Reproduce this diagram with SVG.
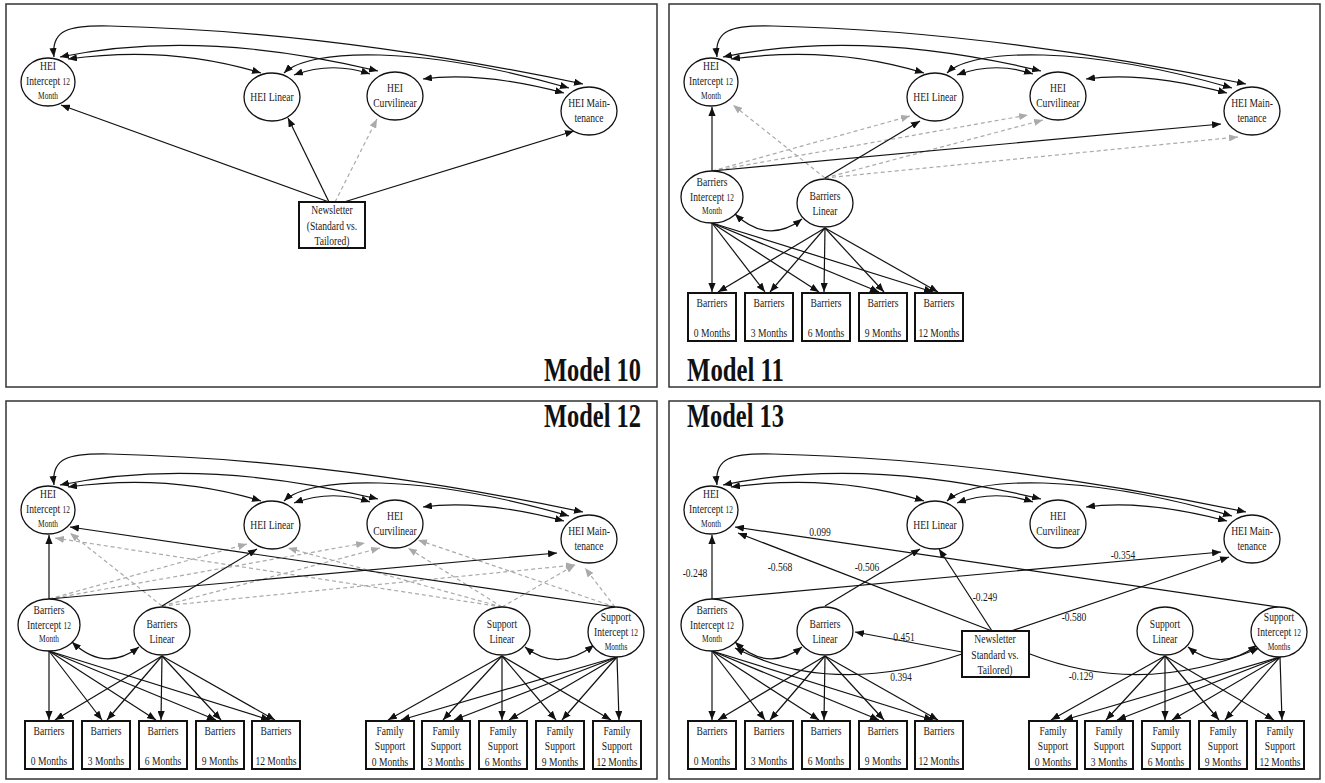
<svg xmlns="http://www.w3.org/2000/svg" width="1325" height="783" viewBox="0 0 1325 783">
<defs>
<marker id="ah" viewBox="0 0 10 8" refX="10" refY="4" markerWidth="9" markerHeight="7.2" markerUnits="userSpaceOnUse" orient="auto-start-reverse"><path d="M0,0 L10,4 L0,8 z" fill="#111"/></marker>
<marker id="ag" viewBox="0 0 10 8" refX="10" refY="4" markerWidth="9" markerHeight="7.2" markerUnits="userSpaceOnUse" orient="auto-start-reverse"><path d="M0,0 L10,4 L0,8 z" fill="#aaa"/></marker>
<style>
.pn{fill:none;stroke:#333;stroke-width:1.5}
.nd ellipse{fill:#fff;stroke:#111;stroke-width:1.3}
.bx rect{fill:#fff;stroke:#111;stroke-width:2}
text{font-family:"Liberation Serif","Times New Roman",serif;font-size:13.5px;fill:#1a1a1a;text-anchor:middle}
.sm{font-size:10.5px}
.c{fill:none;stroke:#111;stroke-width:1.2;marker-end:url(#ah)}
.d{fill:none;stroke:#aaa;stroke-width:1.2;stroke-dasharray:4 3;marker-end:url(#ag)}
.cv{marker-start:url(#ah)}
.ml{font-size:33px;font-weight:bold;text-anchor:start;fill:#111}
</style>
</defs>
<rect width="1325" height="783" fill="#fff"/>
<rect class="pn" x="6" y="4" width="651" height="383"/>
<rect class="pn" x="669" y="4" width="651" height="383"/>
<rect class="pn" x="6" y="401" width="651" height="378"/>
<rect class="pn" x="669" y="401" width="651" height="378"/>
<text class="ml" x="544" y="381" textLength="97" lengthAdjust="spacingAndGlyphs">Model 10</text>
<text class="ml" x="687" y="381" textLength="97" lengthAdjust="spacingAndGlyphs">Model 11</text>
<text class="ml" x="544" y="427" textLength="97" lengthAdjust="spacingAndGlyphs">Model 12</text>
<text class="ml" x="687" y="427" textLength="97" lengthAdjust="spacingAndGlyphs">Model 13</text>

<!-- ================= MODEL 10 ================= -->
<g id="model10">
<g id="m10-edges">
<path class="c cv" d="M54,57 C51,30 68,25 110,26 Q330,31 583,84"/>
<path class="c cv" d="M60,57 Q200,28 378,71"/>
<path class="c cv" d="M68,59 Q170,45 261,73"/>
<path class="c cv" d="M284,73 C310,48 420,45 569,88"/>
<path class="c cv" d="M294,75 Q332,61 370,74"/>
<path class="c cv" d="M423,79 Q480,71 564,93"/>
<line class="c" x1="329" y1="202" x2="61" y2="105"/>
<line class="c" x1="329" y1="202" x2="288" y2="118"/>
<line class="d" x1="335" y1="202" x2="377" y2="119"/>
<line class="c" x1="344" y1="202" x2="574" y2="131"/>
</g>
<g id="m10-hei-int" class="nd"><ellipse cx="48" cy="82" rx="27" ry="24"/><g transform="translate(48,82) scale(.71,1)"><text y="-12">HEI</text><text y="3">Intercept <tspan class="sm">12</tspan></text><text y="17" class="sm">Month</text></g></g>
<g id="m10-hei-lin" class="nd"><ellipse cx="272" cy="97" rx="28" ry="24"/><g transform="translate(272,97) scale(.71,1)"><text y="4">HEI Linear</text></g></g>
<g id="m10-hei-cur" class="nd"><ellipse cx="395" cy="96" rx="28" ry="24"/><g transform="translate(395,96) scale(.71,1)"><text y="-4">HEI</text><text y="11">Curvilinear</text></g></g>
<g id="m10-hei-mnt" class="nd"><ellipse cx="589" cy="111" rx="28" ry="24"/><g transform="translate(589,111) scale(.71,1)"><text y="-4">HEI Main-</text><text y="11">tenance</text></g></g>
<g id="m10-news" class="bx"><rect x="299" y="202" width="66" height="46"/><g transform="translate(332,202) scale(.71,1)"><text y="12">Newsletter</text><text y="28">(Standard vs.</text><text y="43">Tailored)</text></g></g>
</g>

<!-- ================= MODEL 11 ================= -->
<g id="model11" transform="translate(663,0)">
<g id="m11-edges">
<path class="c cv" d="M54,57 C51,30 68,25 110,26 Q330,31 583,84"/>
<path class="c cv" d="M60,57 Q200,28 378,71"/>
<path class="c cv" d="M68,59 Q170,45 261,73"/>
<path class="c cv" d="M284,73 C310,48 420,45 569,88"/>
<path class="c cv" d="M294,75 Q332,61 370,74"/>
<path class="c cv" d="M423,79 Q480,71 564,93"/>
<line class="d" x1="49" y1="171" x2="247" y2="116"/>
<line class="d" x1="49" y1="171" x2="365" y2="115"/>
<line class="d" x1="162" y1="178" x2="70" y2="105"/>
<line class="d" x1="162" y1="178" x2="380" y2="120"/>
<line class="d" x1="162" y1="178" x2="575" y2="137"/>
<line class="c" x1="49" y1="171" x2="49" y2="107"/>
<line class="c" x1="49" y1="171" x2="558" y2="124"/>
<line class="c" x1="162" y1="178" x2="257" y2="121"/>
<path class="c cv" d="M72,214 Q105,245 139,219"/>
<line class="c" x1="49" y1="223" x2="49" y2="292"/>
<line class="c" x1="49" y1="223" x2="102" y2="292"/>
<line class="c" x1="49" y1="223" x2="156" y2="292"/>
<line class="c" x1="49" y1="223" x2="216" y2="292"/>
<line class="c" x1="49" y1="223" x2="270" y2="292"/>
<line class="c" x1="162" y1="228" x2="55" y2="292"/>
<line class="c" x1="162" y1="228" x2="107" y2="292"/>
<line class="c" x1="162" y1="228" x2="161" y2="292"/>
<line class="c" x1="162" y1="228" x2="221" y2="292"/>
<line class="c" x1="162" y1="228" x2="275" y2="292"/>
</g>
<g id="m11-hei-int" class="nd"><ellipse cx="48" cy="82" rx="27" ry="24"/><g transform="translate(48,82) scale(.71,1)"><text y="-12">HEI</text><text y="3">Intercept <tspan class="sm">12</tspan></text><text y="17" class="sm">Month</text></g></g>
<g id="m11-hei-lin" class="nd"><ellipse cx="272" cy="97" rx="28" ry="24"/><g transform="translate(272,97) scale(.71,1)"><text y="4">HEI Linear</text></g></g>
<g id="m11-hei-cur" class="nd"><ellipse cx="395" cy="96" rx="28" ry="24"/><g transform="translate(395,96) scale(.71,1)"><text y="-4">HEI</text><text y="11">Curvilinear</text></g></g>
<g id="m11-hei-mnt" class="nd"><ellipse cx="589" cy="111" rx="28" ry="24"/><g transform="translate(589,111) scale(.71,1)"><text y="-4">HEI Main-</text><text y="11">tenance</text></g></g>
<g id="m11-bar-int" class="nd"><ellipse cx="49" cy="197" rx="31" ry="26"/><g transform="translate(49,197) scale(.71,1)"><text y="-11">Barriers</text><text y="4">Intercept <tspan class="sm">12</tspan></text><text y="17" class="sm">Month</text></g></g>
<g id="m11-bar-lin" class="nd"><ellipse cx="162" cy="203" rx="28" ry="24"/><g transform="translate(162,203) scale(.71,1)"><text y="-3">Barriers</text><text y="12">Linear</text></g></g>
<g id="m11-b0" class="bx"><rect x="25" y="293" width="48" height="48"/><g transform="translate(49,293) scale(.71,1)"><text y="14">Barriers</text><text y="44">0 Months</text></g></g>
<g id="m11-b3" class="bx"><rect x="82" y="293" width="48" height="48"/><g transform="translate(106,293) scale(.71,1)"><text y="14">Barriers</text><text y="44">3 Months</text></g></g>
<g id="m11-b6" class="bx"><rect x="139" y="293" width="48" height="48"/><g transform="translate(163,293) scale(.71,1)"><text y="14">Barriers</text><text y="44">6 Months</text></g></g>
<g id="m11-b9" class="bx"><rect x="196" y="293" width="48" height="48"/><g transform="translate(220,293) scale(.71,1)"><text y="14">Barriers</text><text y="44">9 Months</text></g></g>
<g id="m11-b12" class="bx"><rect x="252" y="293" width="48" height="48"/><g transform="translate(276,293) scale(.71,1)"><text y="14">Barriers</text><text y="44">12 Months</text></g></g>
</g>

<!-- ================= MODEL 12 ================= -->
<g id="model12" transform="translate(0,428)">
<g id="m12-edges">
<path class="c cv" d="M54,57 C51,30 68,25 110,26 Q330,31 583,84"/>
<path class="c cv" d="M60,57 Q200,28 378,71"/>
<path class="c cv" d="M68,59 Q170,45 261,73"/>
<path class="c cv" d="M284,73 C310,48 420,45 569,88"/>
<path class="c cv" d="M294,75 Q332,61 370,74"/>
<path class="c cv" d="M423,79 Q480,71 564,93"/>
<line class="d" x1="49" y1="171" x2="247" y2="116"/>
<line class="d" x1="49" y1="171" x2="365" y2="115"/>
<line class="d" x1="162" y1="178" x2="70" y2="105"/>
<line class="d" x1="162" y1="178" x2="380" y2="120"/>
<line class="d" x1="162" y1="178" x2="575" y2="137"/>
<line class="d" x1="502" y1="179" x2="55" y2="110"/>
<line class="d" x1="502" y1="179" x2="288" y2="120"/>
<line class="d" x1="502" y1="179" x2="408" y2="120"/>
<line class="d" x1="502" y1="179" x2="575" y2="137"/>
<line class="d" x1="615" y1="179" x2="418" y2="112"/>
<line class="d" x1="615" y1="179" x2="585" y2="140"/>
<line class="c" x1="49" y1="171" x2="49" y2="107"/>
<line class="c" x1="49" y1="171" x2="557" y2="125"/>
<line class="c" x1="162" y1="178" x2="257" y2="121"/>
<line class="c" x1="615" y1="179" x2="70" y2="99"/>
<path class="c cv" d="M72,214 Q105,245 139,219"/>
<path class="c cv" d="M525,219 Q558,245 594,217"/>
<line class="c" x1="49" y1="223" x2="49" y2="292"/>
<line class="c" x1="49" y1="223" x2="102" y2="292"/>
<line class="c" x1="49" y1="223" x2="156" y2="292"/>
<line class="c" x1="49" y1="223" x2="216" y2="292"/>
<line class="c" x1="49" y1="223" x2="270" y2="292"/>
<line class="c" x1="162" y1="228" x2="55" y2="292"/>
<line class="c" x1="162" y1="228" x2="107" y2="292"/>
<line class="c" x1="162" y1="228" x2="161" y2="292"/>
<line class="c" x1="162" y1="228" x2="221" y2="292"/>
<line class="c" x1="162" y1="228" x2="275" y2="292"/>
<line class="c" x1="502" y1="228" x2="388" y2="292"/>
<line class="c" x1="502" y1="228" x2="443" y2="292"/>
<line class="c" x1="502" y1="228" x2="502" y2="292"/>
<line class="c" x1="502" y1="228" x2="556" y2="292"/>
<line class="c" x1="502" y1="228" x2="611" y2="292"/>
<line class="c" x1="617" y1="229" x2="401" y2="292"/>
<line class="c" x1="617" y1="229" x2="454" y2="292"/>
<line class="c" x1="617" y1="229" x2="509" y2="292"/>
<line class="c" x1="617" y1="229" x2="562" y2="292"/>
<line class="c" x1="617" y1="229" x2="619" y2="292"/>
</g>
<g id="m12-hei-int" class="nd"><ellipse cx="48" cy="82" rx="27" ry="24"/><g transform="translate(48,82) scale(.71,1)"><text y="-12">HEI</text><text y="3">Intercept <tspan class="sm">12</tspan></text><text y="17" class="sm">Month</text></g></g>
<g id="m12-hei-lin" class="nd"><ellipse cx="272" cy="97" rx="28" ry="24"/><g transform="translate(272,97) scale(.71,1)"><text y="4">HEI Linear</text></g></g>
<g id="m12-hei-cur" class="nd"><ellipse cx="395" cy="96" rx="28" ry="24"/><g transform="translate(395,96) scale(.71,1)"><text y="-4">HEI</text><text y="11">Curvilinear</text></g></g>
<g id="m12-hei-mnt" class="nd"><ellipse cx="589" cy="111" rx="28" ry="24"/><g transform="translate(589,111) scale(.71,1)"><text y="-4">HEI Main-</text><text y="11">tenance</text></g></g>
<g id="m12-bar-int" class="nd"><ellipse cx="49" cy="197" rx="31" ry="26"/><g transform="translate(49,197) scale(.71,1)"><text y="-11">Barriers</text><text y="4">Intercept <tspan class="sm">12</tspan></text><text y="17" class="sm">Month</text></g></g>
<g id="m12-bar-lin" class="nd"><ellipse cx="162" cy="203" rx="28" ry="24"/><g transform="translate(162,203) scale(.71,1)"><text y="-3">Barriers</text><text y="12">Linear</text></g></g>
<g id="m12-sup-lin" class="nd"><ellipse cx="502" cy="203" rx="28" ry="24"/><g transform="translate(502,203) scale(.71,1)"><text y="-3">Support</text><text y="12">Linear</text></g></g>
<g id="m12-sup-int" class="nd"><ellipse cx="616" cy="204" rx="28" ry="25"/><g transform="translate(616,204) scale(.71,1)"><text y="-11">Support</text><text y="4">Intercept <tspan class="sm">12</tspan></text><text y="18" class="sm">Months</text></g></g>
<g id="m12-b0" class="bx"><rect x="25" y="293" width="48" height="48"/><g transform="translate(49,293) scale(.71,1)"><text y="14">Barriers</text><text y="44">0 Months</text></g></g>
<g id="m12-b3" class="bx"><rect x="82" y="293" width="48" height="48"/><g transform="translate(106,293) scale(.71,1)"><text y="14">Barriers</text><text y="44">3 Months</text></g></g>
<g id="m12-b6" class="bx"><rect x="139" y="293" width="48" height="48"/><g transform="translate(163,293) scale(.71,1)"><text y="14">Barriers</text><text y="44">6 Months</text></g></g>
<g id="m12-b9" class="bx"><rect x="196" y="293" width="48" height="48"/><g transform="translate(220,293) scale(.71,1)"><text y="14">Barriers</text><text y="44">9 Months</text></g></g>
<g id="m12-b12" class="bx"><rect x="252" y="293" width="48" height="48"/><g transform="translate(276,293) scale(.71,1)"><text y="14">Barriers</text><text y="44">12 Months</text></g></g>
<g id="m12-f0" class="bx"><rect x="366" y="293" width="48" height="48"/><g transform="translate(390,293) scale(.71,1)"><text y="14">Family</text><text y="29">Support</text><text y="45">0 Months</text></g></g>
<g id="m12-f3" class="bx"><rect x="422" y="293" width="48" height="48"/><g transform="translate(446,293) scale(.71,1)"><text y="14">Family</text><text y="29">Support</text><text y="45">3 Months</text></g></g>
<g id="m12-f6" class="bx"><rect x="479" y="293" width="48" height="48"/><g transform="translate(503,293) scale(.71,1)"><text y="14">Family</text><text y="29">Support</text><text y="45">6 Months</text></g></g>
<g id="m12-f9" class="bx"><rect x="536" y="293" width="48" height="48"/><g transform="translate(560,293) scale(.71,1)"><text y="14">Family</text><text y="29">Support</text><text y="45">9 Months</text></g></g>
<g id="m12-f12" class="bx"><rect x="593" y="293" width="48" height="48"/><g transform="translate(617,293) scale(.71,1)"><text y="14">Family</text><text y="29">Support</text><text y="45">12 Months</text></g></g>
</g>

<!-- ================= MODEL 13 ================= -->
<g id="model13" transform="translate(663,428)">
<g id="m13-edges">
<path class="c cv" d="M54,57 C51,30 68,25 110,26 Q330,31 583,84"/>
<path class="c cv" d="M60,57 Q200,28 378,71"/>
<path class="c cv" d="M68,59 Q170,45 261,73"/>
<path class="c cv" d="M284,73 C310,48 420,45 569,88"/>
<path class="c cv" d="M294,75 Q332,61 370,74"/>
<path class="c cv" d="M423,79 Q480,71 564,93"/>
<line class="c" x1="49" y1="171" x2="49" y2="107"/>
<line class="c" x1="49" y1="171" x2="558" y2="124"/>
<line class="c" x1="162" y1="178" x2="257" y2="121"/>
<line class="c" x1="329" y1="203" x2="75" y2="105"/>
<line class="c" x1="329" y1="203" x2="276" y2="121"/>
<line class="c" x1="348" y1="203" x2="566" y2="129"/>
<line class="c" x1="615" y1="179" x2="72" y2="99"/>
<line class="c" x1="299" y1="224" x2="192" y2="204"/>
<path class="c" d="M299,226 Q170,270 72,220"/>
<path class="c" d="M367,226 Q480,270 596,220"/>
<path class="c cv" d="M72,214 Q105,245 139,219"/>
<path class="c cv" d="M525,219 Q558,245 594,217"/>
<line class="c" x1="49" y1="223" x2="49" y2="292"/>
<line class="c" x1="49" y1="223" x2="102" y2="292"/>
<line class="c" x1="49" y1="223" x2="156" y2="292"/>
<line class="c" x1="49" y1="223" x2="216" y2="292"/>
<line class="c" x1="49" y1="223" x2="270" y2="292"/>
<line class="c" x1="162" y1="228" x2="55" y2="292"/>
<line class="c" x1="162" y1="228" x2="107" y2="292"/>
<line class="c" x1="162" y1="228" x2="161" y2="292"/>
<line class="c" x1="162" y1="228" x2="221" y2="292"/>
<line class="c" x1="162" y1="228" x2="275" y2="292"/>
<line class="c" x1="502" y1="228" x2="388" y2="292"/>
<line class="c" x1="502" y1="228" x2="443" y2="292"/>
<line class="c" x1="502" y1="228" x2="502" y2="292"/>
<line class="c" x1="502" y1="228" x2="556" y2="292"/>
<line class="c" x1="502" y1="228" x2="611" y2="292"/>
<line class="c" x1="617" y1="229" x2="401" y2="292"/>
<line class="c" x1="617" y1="229" x2="454" y2="292"/>
<line class="c" x1="617" y1="229" x2="509" y2="292"/>
<line class="c" x1="617" y1="229" x2="562" y2="292"/>
<line class="c" x1="617" y1="229" x2="619" y2="292"/>
<g id="m13-labels">
<text transform="translate(32,149) scale(.71,1)">-0.248</text>
<text transform="translate(460,131) scale(.71,1)">-0.354</text>
<text transform="translate(204,143) scale(.71,1)">-0.506</text>
<text transform="translate(117,143) scale(.71,1)">-0.568</text>
<text transform="translate(322,173) scale(.71,1)">-0.249</text>
<text transform="translate(411,193) scale(.71,1)">-0.580</text>
<text transform="translate(157,108) scale(.71,1)">0.099</text>
<text transform="translate(241,213) scale(.71,1)">0.451</text>
<text transform="translate(238,253) scale(.71,1)">0.394</text>
<text transform="translate(418,252) scale(.71,1)">-0.129</text>
</g>
</g>
<g id="m13-hei-int" class="nd"><ellipse cx="48" cy="82" rx="27" ry="24"/><g transform="translate(48,82) scale(.71,1)"><text y="-12">HEI</text><text y="3">Intercept <tspan class="sm">12</tspan></text><text y="17" class="sm">Month</text></g></g>
<g id="m13-hei-lin" class="nd"><ellipse cx="272" cy="97" rx="28" ry="24"/><g transform="translate(272,97) scale(.71,1)"><text y="4">HEI Linear</text></g></g>
<g id="m13-hei-cur" class="nd"><ellipse cx="395" cy="96" rx="28" ry="24"/><g transform="translate(395,96) scale(.71,1)"><text y="-4">HEI</text><text y="11">Curvilinear</text></g></g>
<g id="m13-hei-mnt" class="nd"><ellipse cx="589" cy="111" rx="28" ry="24"/><g transform="translate(589,111) scale(.71,1)"><text y="-4">HEI Main-</text><text y="11">tenance</text></g></g>
<g id="m13-bar-int" class="nd"><ellipse cx="49" cy="197" rx="31" ry="26"/><g transform="translate(49,197) scale(.71,1)"><text y="-11">Barriers</text><text y="4">Intercept <tspan class="sm">12</tspan></text><text y="17" class="sm">Month</text></g></g>
<g id="m13-bar-lin" class="nd"><ellipse cx="162" cy="203" rx="28" ry="24"/><g transform="translate(162,203) scale(.71,1)"><text y="-3">Barriers</text><text y="12">Linear</text></g></g>
<g id="m13-sup-lin" class="nd"><ellipse cx="502" cy="203" rx="28" ry="24"/><g transform="translate(502,203) scale(.71,1)"><text y="-3">Support</text><text y="12">Linear</text></g></g>
<g id="m13-sup-int" class="nd"><ellipse cx="616" cy="204" rx="28" ry="25"/><g transform="translate(616,204) scale(.71,1)"><text y="-11">Support</text><text y="4">Intercept <tspan class="sm">12</tspan></text><text y="18" class="sm">Months</text></g></g>
<g id="m13-news" class="bx"><rect x="299" y="203" width="67" height="46"/><g transform="translate(332,203) scale(.71,1)"><text y="12">Newsletter</text><text y="28">Standard vs.</text><text y="43">Tailored)</text></g></g>
<g id="m13-b0" class="bx"><rect x="25" y="293" width="48" height="48"/><g transform="translate(49,293) scale(.71,1)"><text y="14">Barriers</text><text y="44">0 Months</text></g></g>
<g id="m13-b3" class="bx"><rect x="82" y="293" width="48" height="48"/><g transform="translate(106,293) scale(.71,1)"><text y="14">Barriers</text><text y="44">3 Months</text></g></g>
<g id="m13-b6" class="bx"><rect x="139" y="293" width="48" height="48"/><g transform="translate(163,293) scale(.71,1)"><text y="14">Barriers</text><text y="44">6 Months</text></g></g>
<g id="m13-b9" class="bx"><rect x="196" y="293" width="48" height="48"/><g transform="translate(220,293) scale(.71,1)"><text y="14">Barriers</text><text y="44">9 Months</text></g></g>
<g id="m13-b12" class="bx"><rect x="252" y="293" width="48" height="48"/><g transform="translate(276,293) scale(.71,1)"><text y="14">Barriers</text><text y="44">12 Months</text></g></g>
<g id="m13-f0" class="bx"><rect x="366" y="293" width="48" height="48"/><g transform="translate(390,293) scale(.71,1)"><text y="14">Family</text><text y="29">Support</text><text y="45">0 Months</text></g></g>
<g id="m13-f3" class="bx"><rect x="422" y="293" width="48" height="48"/><g transform="translate(446,293) scale(.71,1)"><text y="14">Family</text><text y="29">Support</text><text y="45">3 Months</text></g></g>
<g id="m13-f6" class="bx"><rect x="479" y="293" width="48" height="48"/><g transform="translate(503,293) scale(.71,1)"><text y="14">Family</text><text y="29">Support</text><text y="45">6 Months</text></g></g>
<g id="m13-f9" class="bx"><rect x="536" y="293" width="48" height="48"/><g transform="translate(560,293) scale(.71,1)"><text y="14">Family</text><text y="29">Support</text><text y="45">9 Months</text></g></g>
<g id="m13-f12" class="bx"><rect x="593" y="293" width="48" height="48"/><g transform="translate(617,293) scale(.71,1)"><text y="14">Family</text><text y="29">Support</text><text y="45">12 Months</text></g></g>
</g>
</svg>
